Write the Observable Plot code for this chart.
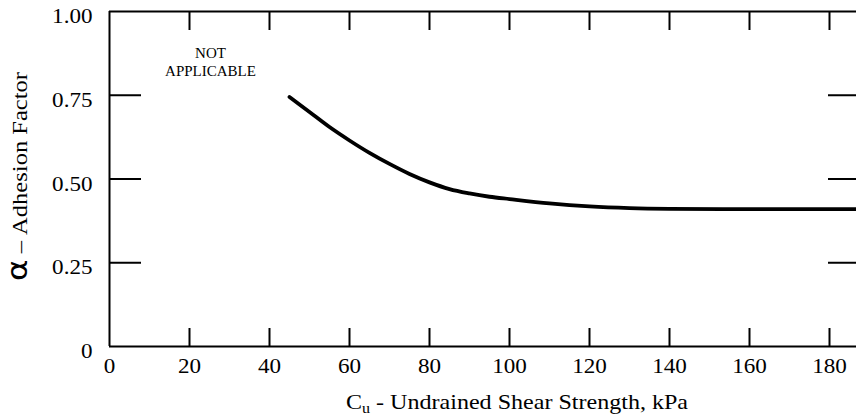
<!DOCTYPE html>
<html><head><meta charset="utf-8">
<script src="https://cdn.jsdelivr.net/npm/d3@7"></script>
<script src="https://cdn.jsdelivr.net/npm/@observablehq/plot@0.6"></script>
<style>html,body{margin:0;padding:0;background:#fff;overflow:hidden} svg{display:block}</style>
</head><body><div id="chart"></div>
<script>
// Curve: alpha adhesion factor vs undrained shear strength
const cu = [45, 50, 55, 60, 65, 70, 75, 80, 85, 90, 95, 100, 110, 120, 130, 140, 160, 187];
const alpha = [0.745, 0.70, 0.655, 0.615, 0.578, 0.545, 0.515, 0.49, 0.47, 0.457, 0.447, 0.44, 0.427, 0.418, 0.413, 0.411, 0.41, 0.41];
const xTickLabels = [0, 20, 40, 60, 80, 100, 120, 140, 160, 180];
const yTickLabels = [0, 0.25, 0.5, 0.75, 1];
const xInnerTicks = [20, 40, 60, 80, 100, 120, 140, 160, 180];
const yInnerTicks = [0.25, 0.5, 0.75];
const noteText = ["NOT", "APPLICABLE"];
const noteX = [25.25];
const noteY = [0.851];
const xLabel = "Cu - Undrained Shear Strength, kPa";
const yLabel = "α – Adhesion Factor";

const data = cu.map((x, i) => ({x, y: alpha[i]}));
const note = [{x: noteX[0], y: noteY[0], t: noteText.join("\n")}];
const fmt = d => d === 0 ? "0" : d.toFixed(2);

const plot = Plot.plot({
  width: 856, height: 417,
  marginTop: 11, marginBottom: 71, marginLeft: 109, marginRight: 0,
  x: {domain: [0, 186.75]},
  y: {domain: [0, 1]},
  style: {fontFamily: "'Liberation Serif', 'Times New Roman', serif", fontSize: "21px", color: "#000", background: "#fff"},
  marks: [
    Plot.axisX(xTickLabels, {anchor: "bottom", tickSize: 0, tickPadding: 12, fontSize: 21, label: null}),
    Plot.axisX(xInnerTicks, {anchor: "bottom", tickSize: -18, fill: "none", strokeWidth: 2, label: null}),
    Plot.axisX(xInnerTicks, {anchor: "top", tickSize: -18, fill: "none", strokeWidth: 2, label: null}),
    Plot.axisY(yTickLabels, {anchor: "left", tickSize: 0, tickPadding: 17, tickFormat: fmt, dy: 5, fontSize: 21, label: null}),
    Plot.axisY(yInnerTicks, {anchor: "left", tickSize: -32, fill: "none", strokeWidth: 2, label: null}),
    Plot.axisY(yInnerTicks, {anchor: "right", tickSize: -29, fill: "none", strokeWidth: 2, label: null}),
    Plot.ruleY([0, 1], {strokeWidth: 2}),
    Plot.ruleX([0], {strokeWidth: 2}),
    Plot.line(data, {x: "x", y: "y", curve: "monotone-x", strokeWidth: 3.8}),
    Plot.text(note, {x: "x", y: "y", text: "t", fontSize: 15, lineHeight: 1.22}),
    Plot.text([xLabel], {frameAnchor: "bottom", dx: 34, dy: 56, fontSize: 21, lineAnchor: "middle"}),
    Plot.text([yLabel], {frameAnchor: "left", dx: -89, dy: 102, rotate: -90, fontSize: 21, lineAnchor: "middle"})
  ]
});

const svg = d3.select(plot);
// widen tick labels horizontally like the reference's typeface
svg.selectAll('g[aria-label="x-axis tick label"] text, g[aria-label="y-axis tick label"] text').each(function() {
  const tr = this.getAttribute("transform") || "";
  this.setAttribute("transform", tr + " scale(1.1,1)");
});
svg.selectAll("text").filter(function() { return this.textContent === xLabel; }).each(function() {
  const t = d3.select(this); t.text(null);
  t.attr("textLength", 342).attr("lengthAdjust", "spacingAndGlyphs");
  t.append("tspan").text("C");
  t.append("tspan").attr("font-size", 14).attr("dy", 4).text("u");
  t.append("tspan").attr("dy", -4).text(" - Undrained Shear Strength, kPa");
});
svg.selectAll("text").filter(function() { return this.textContent === yLabel; }).each(function() {
  const t = d3.select(this); t.text(null);
  t.attr("textLength", 209).attr("lengthAdjust", "spacingAndGlyphs");
  t.append("tspan").attr("font-family", "'DejaVu Sans', sans-serif").attr("font-size", 28).text("α");
  t.append("tspan").text(" – Adhesion Factor");
});
document.getElementById("chart").appendChild(plot);
</script>
</body></html>
